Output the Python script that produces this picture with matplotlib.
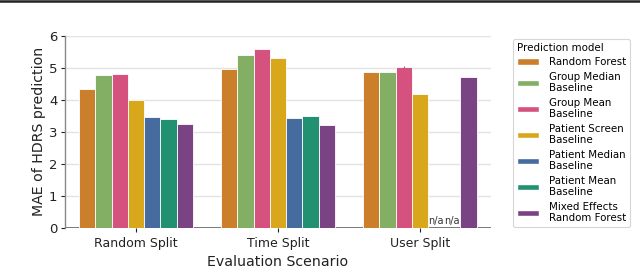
import numpy as np
import matplotlib.pyplot as plt
from matplotlib.lines import Line2D
from matplotlib.patches import Patch

scenarios = ["Random Split", "Time Split", "User Split"]
models = ["Random Forest", "Group Median\nBaseline", "Group Mean\nBaseline",
          "Patient Screen\nBaseline", "Patient Median\nBaseline",
          "Patient Mean\nBaseline", "Mixed Effects\nRandom Forest"]
colors = ["#cc7f2b", "#82af63", "#d5527e", "#d8a71c", "#456b9f", "#229172", "#7a4484"]

# MAE per model, one value per scenario (nan = not applicable)
random_forest   = [4.34, 4.96, 4.86]
group_median    = [4.79, 5.42, 4.86]
group_mean      = [4.82, 5.58, 5.02]
patient_screen  = [4.01, 5.32, 4.17]
patient_median  = [3.46, 3.42, np.nan]
patient_mean    = [3.40, 3.49, np.nan]
mixed_effects   = [3.25, 3.21, 4.72]
series = [random_forest, group_median, group_mean, patient_screen,
          patient_median, patient_mean, mixed_effects]

fig = plt.figure(figsize=(6.4, 2.7), dpi=100)
ax = fig.add_axes([0.1016, 0.1567, 0.6654, 0.71])

x = np.arange(len(scenarios))
n = len(series)
w = 0.8 / n
ax.axhline(0, color="#444444", lw=1.2, zorder=0.5)
for i, vals in enumerate(series):
    pos = x - 0.4 + w * (i + 0.5)
    v = np.array(vals, dtype=float)
    ax.bar(pos, np.nan_to_num(v), width=w, color=colors[i],
           edgecolor="white", linewidth=0.6, zorder=2)
    for p, val in zip(pos, v):
        if np.isnan(val):
            ax.text(p, 0.06, "n/a", ha="center", va="bottom", fontsize=7,
                    color="#333333", zorder=3)

# small error bar on group mean, user split
ax.errorbar(x[2] - 0.4 + w * 2.5, group_mean[2], yerr=0.03, color="#777777",
            lw=0.8, zorder=3)

ax.set_xlim(-0.5, 2.5)
ax.set_ylim(0, 6)
ax.set_xticks(x)
ax.set_xticklabels(scenarios, fontsize=9, color="#222222")
ax.set_yticks(range(7))
ax.tick_params(axis="y", labelsize=9.5, colors="#222222", length=3, width=0.8, pad=2.5)
ax.tick_params(axis="x", length=3, width=0.8, colors="#222222")
ax.yaxis.grid(True, color="#e3e3e3", lw=1, zorder=0)
ax.set_axisbelow(True)
for s in ["top", "right", "bottom"]:
    ax.spines[s].set_visible(False)
ax.spines["left"].set_color("#888888")
ax.spines["left"].set_linewidth(1)
ax.set_xlabel("Evaluation Scenario", fontsize=10.2, color="#222222")
ax.set_ylabel("MAE of HDRS prediction", fontsize=10.2, color="#222222", labelpad=2)

handles = [Patch(facecolor=c, edgecolor="white") for c in colors]
leg = fig.legend(handles, models, title="Prediction model", loc="upper left",
                 bbox_to_anchor=(0.797, 0.868), fontsize=7.4, title_fontsize=7.4,
                 handlelength=2.1, handleheight=0.6, labelspacing=0.43,
                 borderpad=0.4, handletextpad=0.95, borderaxespad=0.3,
                 frameon=True, fancybox=True)
leg.get_frame().set_edgecolor("#cccccc")
leg.get_frame().set_linewidth(0.8)
leg._legend_box.align = "left"

fig.add_artist(Line2D([0, 1], [0.995, 0.995], transform=fig.transFigure,
                      color="#222222", lw=1.8))

fig.savefig("out.png", dpi=100)
